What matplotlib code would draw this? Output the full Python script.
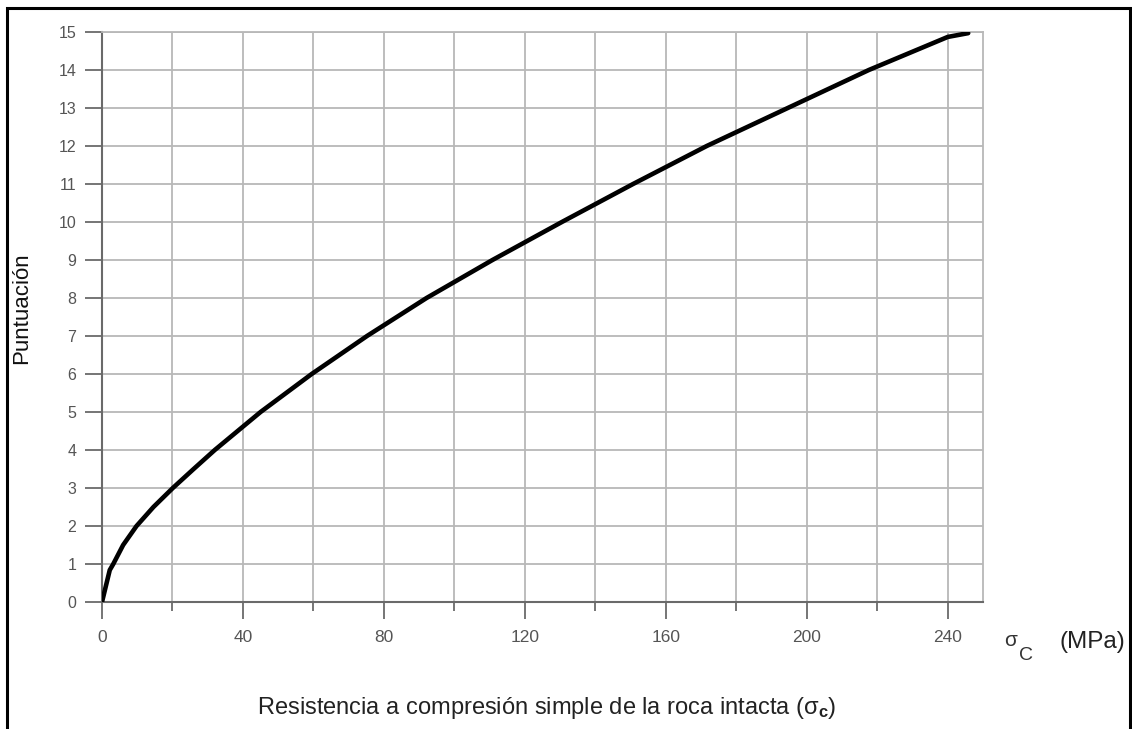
import matplotlib
matplotlib.use("Agg")
import matplotlib.pyplot as plt
from matplotlib.patches import Rectangle

# Data
sigma_c = [0, 2.2, 3.2, 6.0, 9.8, 14.6, 20.1, 26.0, 32.0, 38.5, 45.0, 59.5, 75.2,
           92.1, 110.8, 130.5, 150.7, 171.6, 194.6, 217.6, 240, 245.8]
puntuacion = [0, 0.84, 1.0, 1.5, 2.0, 2.5, 3.0, 3.5, 4.0, 4.5, 5.0, 6.0, 7.0,
              8.0, 9.0, 10.0, 11.0, 12.0, 13.0, 14.0, 14.87, 14.97]
x_major_ticks = [0, 40, 80, 120, 160, 200, 240]
x_minor_ticks = [20, 60, 100, 140, 180, 220]
y_ticks = list(range(0, 16))

plt.rcParams['font.family'] = ['Liberation Sans', 'DejaVu Sans']
plt.rcParams['mathtext.fontset'] = 'custom'
plt.rcParams['mathtext.rm'] = 'Liberation Sans'
plt.rcParams['mathtext.it'] = 'Liberation Sans'
plt.rcParams['mathtext.bf'] = 'Liberation Sans:bold'

W, H = 1132, 729
fig = plt.figure(figsize=(W / 100, H / 100), dpi=100)
ax = fig.add_axes([102 / W, (H - 602) / H, (983 - 102) / W, (602 - 32) / H])

grid_c = '#b8b8b8'
axis_c = '#6a6a6a'

ax.plot(sigma_c, puntuacion, color='black', lw=3.3, solid_capstyle='round',
        solid_joinstyle='round', zorder=3)

ax.set_xlim(0, 250)
ax.set_ylim(0, 15)
ax.set_xticks(x_major_ticks)
ax.set_xticks(x_minor_ticks, minor=True)
ax.set_yticks(y_ticks)

ax.grid(True, which='both', color=grid_c, lw=1.3)
ax.set_axisbelow(True)

for s in ['top', 'right']:
    ax.spines[s].set_color(grid_c)
    ax.spines[s].set_linewidth(1.3)
for s in ['left', 'bottom']:
    ax.spines[s].set_color(axis_c)
    ax.spines[s].set_linewidth(1.5)

ax.tick_params(axis='x', which='major', length=12.5, width=1.3, color=axis_c,
               labelsize=12.5, labelcolor='#555555', pad=8)
ax.tick_params(axis='x', which='minor', length=6.5, width=1.3, color=axis_c)
ax.tick_params(axis='y', which='major', length=12.5, width=1.3, color=axis_c,
               labelsize=11.5, labelcolor='#555555', pad=6)

ax.set_ylabel('Puntuación', fontsize=16, color='#111111')
ax.yaxis.set_label_coords(-0.079, 0.515)

fig.text(547 / W, 1 - 708 / H,
         'Resistencia a compresión simple de la roca intacta (σ$_\\mathbf{c}$)',
         ha='center', va='center', fontsize=17, color='#222222')

fig.text(1011 / W, 1 - 641 / H, 'σ', ha='center', va='center', fontsize=15, color='#333333')
fig.text(1026 / W, 1 - 655 / H, 'C', ha='center', va='center', fontsize=14, color='#333333')
fig.text(1092 / W, 1 - 642 / H, '(MPa)', ha='center', va='center', fontsize=17.5, color='#222222')

fig.patches.append(Rectangle((7 / W, -0.02), (1130 - 7) / W, 1.02 - 8 / H,
                             transform=fig.transFigure, fill=False,
                             edgecolor='black', lw=2.2))

fig.savefig('out.png', dpi=100)
